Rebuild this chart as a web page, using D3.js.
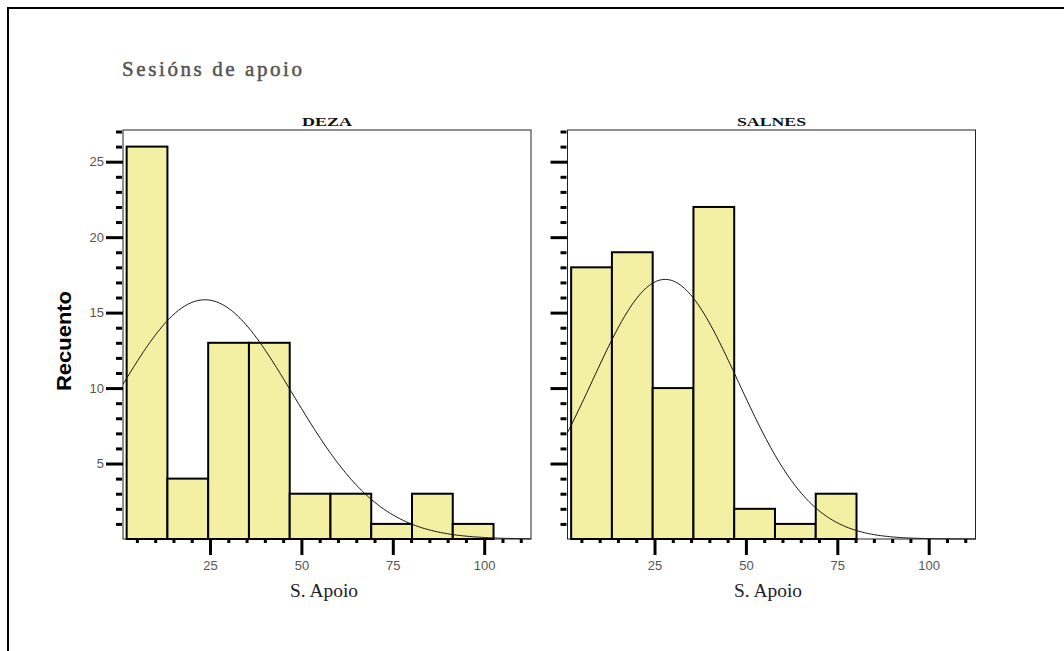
<!DOCTYPE html>
<html>
<head>
<meta charset="utf-8">
<script src="https://cdn.jsdelivr.net/npm/d3@7"></script>
<style>
  html, body { margin: 0; padding: 0; background: #fff; }
  svg { display: block; }
</style>
</head>
<body>
<script>
// ---- data ----
const chartTitle = "Sesións de apoio";
const panelNames = ["DEZA", "SALNES"];
const binEdges = [2.2, 13.35, 24.5, 35.65, 46.8, 57.95, 69.1, 80.25, 91.4, 102.55];
const dezaCounts = [26, 4, 13, 13, 3, 3, 1, 3, 1];
const salnesCounts = [18, 19, 10, 22, 2, 1, 3];
// fitted normal curve parameters
const curveMean = [23.6, 27.9];
const curveSD = [24, 20];
const curvePeak = [15.85, 17.2];
const xMajorTicks = [25, 50, 75, 100];
const xMinorTicks = [5, 10, 15, 20, 30, 35, 40, 45, 55, 60, 65, 70, 80, 85, 90, 95, 105, 110];
const yMajorTicks = [5, 10, 15, 20, 25];
const yMinorTicks = [1, 2, 3, 4, 6, 7, 8, 9, 11, 12, 13, 14, 16, 17, 18, 19, 21, 22, 23, 24, 26, 27];
const xLabel = "S. Apoio";
const yLabel = "Recuento";

const W = 1064, H = 651;
const svg = d3.select("body").append("svg").attr("width", W).attr("height", H);
svg.append("rect").attr("width", W).attr("height", H).attr("fill", "#fff");

// outer frame
svg.append("path").attr("d", `M8,${H + 2} V8 H${W + 2}`)
  .attr("fill", "none").attr("stroke", "#000").attr("stroke-width", 2);

// title
svg.append("text").attr("x", 122).attr("y", 76)
  .attr("font-family", "'Liberation Serif', 'DejaVu Serif', serif")
  .attr("font-size", 21).attr("fill", "#555")
  .attr("stroke", "#555").attr("stroke-width", 0.5)
  .attr("textLength", 180).attr("lengthAdjust", "spacing")
  .text(chartTitle);

// y label
svg.append("text").attr("transform", "translate(71,341) rotate(-90)")
  .attr("text-anchor", "middle")
  .attr("font-family", "'Liberation Sans', Arial, sans-serif")
  .attr("font-weight", "bold").attr("font-size", 20).attr("fill", "#000")
  .attr("textLength", 100).attr("lengthAdjust", "spacingAndGlyphs")
  .text(yLabel);

const panelX = [123, 567.5];
const panelW = 408;
const plotTop = 130, plotBottom = 539;
const titleLen = [50, 69];
const xLabelCenter = [324, 768];

const y = d3.scaleLinear().domain([0, 27.1]).range([plotBottom, plotTop]);

const allCounts = [dezaCounts, salnesCounts];

panelNames.forEach((name, pi) => {
  const x0 = panelX[pi];
  const x = d3.scaleLinear().domain([1.2, 112.8]).range([x0, x0 + panelW]);
  const g = svg.append("g");

  // plot box
  g.append("rect").attr("x", x0).attr("y", plotTop).attr("width", panelW).attr("height", plotBottom - plotTop)
    .attr("fill", "#fff").attr("stroke", "#222").attr("stroke-width", 1);

  // bars
  const counts = allCounts[pi];
  g.selectAll("rect.bar").data(counts).join("rect").attr("class", "bar")
    .attr("x", (d, i) => x(binEdges[i]))
    .attr("width", (d, i) => x(binEdges[i + 1]) - x(binEdges[i]))
    .attr("y", d => y(d))
    .attr("height", d => y(0) - y(d))
    .attr("fill", "#f3f0a3").attr("stroke", "#000").attr("stroke-width", 2);

  // normal curve
  const m = curveMean[pi], s = curveSD[pi], p = curvePeak[pi];
  const pts = d3.range(1.2, 112.81, 0.4).map(v => [v, p * Math.exp(-0.5 * ((v - m) / s) ** 2)]);
  g.append("path").datum(pts)
    .attr("d", d3.line().x(d => x(d[0])).y(d => y(d[1])))
    .attr("fill", "none").attr("stroke", "#111").attr("stroke-width", 1);

  // x axis major
  const xa = g.append("g").attr("transform", `translate(0,${plotBottom})`)
    .call(d3.axisBottom(x).tickValues(xMajorTicks).tickSize(16).tickPadding(6).tickFormat(d3.format("d")));
  xa.select(".domain").remove();
  xa.selectAll("line").attr("stroke", "#000").attr("stroke-width", 3);
  xa.selectAll("text").attr("fill", "#555").attr("font-size", 13)
    .attr("font-family", "'Liberation Sans', Arial, sans-serif");

  // x axis minor
  const xm = g.append("g").attr("transform", `translate(0,${plotBottom})`)
    .call(d3.axisBottom(x).tickValues(xMinorTicks).tickSize(4).tickFormat(""));
  xm.select(".domain").remove();
  xm.selectAll("line").attr("stroke", "#000").attr("stroke-width", 3);

  // y axis major
  const ya = g.append("g").attr("transform", `translate(${x0},0)`)
    .call(d3.axisLeft(y).tickValues(yMajorTicks).tickSize(17).tickPadding(2)
      .tickFormat(pi === 0 ? d3.format("d") : ""));
  ya.select(".domain").remove();
  ya.selectAll("line").attr("stroke", "#000").attr("stroke-width", 3);
  ya.selectAll("text").attr("fill", "#555").attr("font-size", 13)
    .attr("font-family", "'Liberation Sans', Arial, sans-serif");

  // y axis minor
  const ym = g.append("g").attr("transform", `translate(${x0 - 1},0)`)
    .call(d3.axisLeft(y).tickValues(yMinorTicks).tickSize(6).tickFormat(""));
  ym.select(".domain").remove();
  ym.selectAll("line").attr("stroke", "#000").attr("stroke-width", 3);

  // panel title
  g.append("text").attr("x", x0 + panelW / 2).attr("y", 126)
    .attr("text-anchor", "middle")
    .attr("font-family", "'Liberation Serif', 'DejaVu Serif', serif")
    .attr("font-weight", "bold").attr("font-size", 13).attr("fill", "#111")
    .attr("textLength", titleLen[pi]).attr("lengthAdjust", "spacingAndGlyphs")
    .text(name);

  // x label
  g.append("text").attr("x", xLabelCenter[pi]).attr("y", 597)
    .attr("text-anchor", "middle")
    .attr("font-family", "'Liberation Serif', 'DejaVu Serif', serif")
    .attr("font-size", 18).attr("fill", "#222")
    .attr("textLength", 68).attr("lengthAdjust", "spacingAndGlyphs")
    .text(xLabel);
});
</script>
</body>
</html>
